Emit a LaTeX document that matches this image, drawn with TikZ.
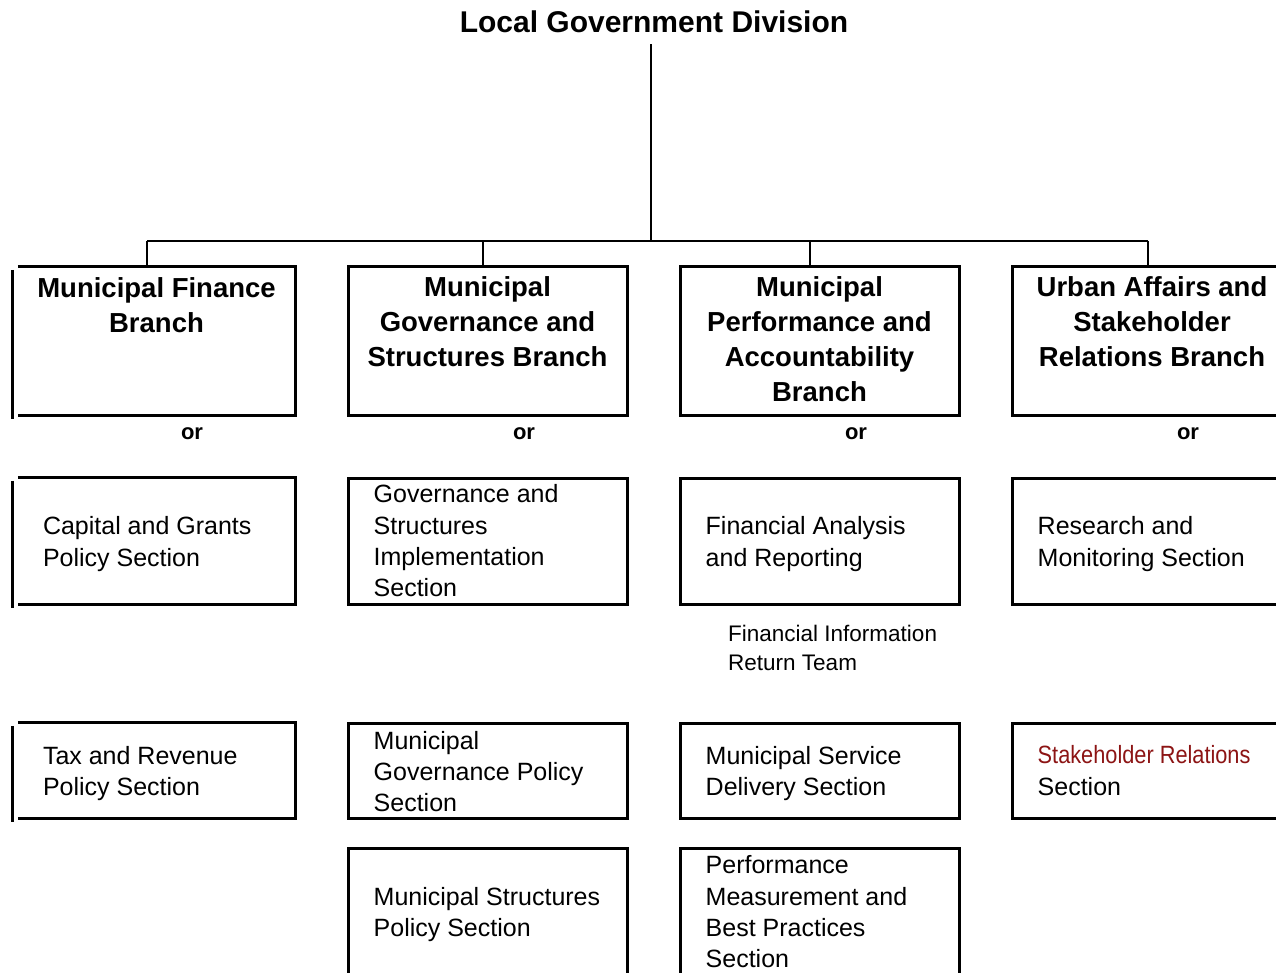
\documentclass[tikz,border=0pt]{standalone}
\usepackage{fontspec}
\setmainfont{Liberation Sans}
\newfontfamily\narrowfont[FakeStretch=0.87]{Liberation Sans}
\definecolor{srred}{RGB}{140,20,20}
\begin{document}
\begin{tikzpicture}[x=1pt,y=-1pt,
  conn/.style={line width=1.8pt},
  edge3/.style={line width=3pt},
  frame/.style={rectangle,draw,line width=3pt,inner sep=0pt},
  openbox/.style={rectangle,inner sep=0pt},
  head/.style={font=\fontsize{27.5}{35}\selectfont\bfseries,align=center,anchor=north,inner sep=0pt},
  body/.style={font=\fontsize{25}{31.3}\selectfont,align=left,anchor=west,inner sep=0pt,yshift=-3pt},
  ortext/.style={font=\fontsize{22}{26}\selectfont\bfseries,inner sep=0pt},
  note/.style={font=\fontsize{22.5}{28.5}\selectfont,align=left,anchor=west,inner sep=0pt},
]
\useasboundingbox (0,0) rectangle (1276,973);
\clip (0,0) rectangle (1276,973);

% title
\node[font=\fontsize{30}{36}\selectfont\bfseries,inner sep=0pt] (title) at (654,22) {Local Government Division};

% row 1 (branches)
\node[openbox,minimum width=277pt,minimum height=148pt] (b1) at (156.5,341) {};
\node[frame,minimum width=279pt,minimum height=148pt] (b2) at (487.5,341) {};
\node[frame,minimum width=279pt,minimum height=148pt] (b3) at (819.5,341) {};
\node[frame,minimum width=280pt,minimum height=148pt] (b4) at (1152,341) {};

\node[head] (h1) at ([yshift=-11pt]b1.north) {Municipal Finance\\Branch};
\node[head] (h2) at ([yshift=-11pt]b2.north) {Municipal\\Governance and\\Structures Branch};
\node[head] (h3) at ([yshift=-11pt]b3.north) {Municipal\\Performance and\\Accountability\\Branch};
\node[head] (h4) at ([yshift=-11pt]b4.north) {Urban Affairs and\\Stakeholder\\Relations Branch};

\node[ortext] (o1) at (192,434) {or};
\node[ortext] (o2) at (524,434) {or};
\node[ortext] (o3) at (856,434) {or};
\node[ortext] (o4) at (1188,434) {or};

% row 2
\node[openbox,minimum width=277pt,minimum height=126pt] (b21) at (156.5,541) {};
\node[frame,minimum width=279pt,minimum height=126pt] (b22) at (487.5,541) {};
\node[frame,minimum width=279pt,minimum height=126pt] (b23) at (819.5,541) {};
\node[frame,minimum width=280pt,minimum height=126pt] (b24) at (1152,541) {};

\node[body] (t21) at ([xshift=25pt]b21.west) {Capital and Grants\\Policy Section};
\node[body,yshift=3pt] (t22) at ([xshift=27pt]b22.west) {Governance and\\Structures\\Implementation\\Section};
\node[body] (t23) at ([xshift=27pt]b23.west) {Financial Analysis\\and Reporting};
\node[body] (t24) at ([xshift=27pt]b24.west) {Research and\\Monitoring Section};

\node[note] (fir) at (728,648) {Financial Information\\Return Team};

% row 3
\node[openbox,minimum width=277pt,minimum height=95pt] (b31) at (156.5,770.5) {};
\node[frame,minimum width=279pt,minimum height=95pt] (b32) at (487.5,770.5) {};
\node[frame,minimum width=279pt,minimum height=95pt] (b33) at (819.5,770.5) {};
\node[frame,minimum width=280pt,minimum height=95pt] (b34) at (1152,770.5) {};

\node[body] (t31) at ([xshift=25pt]b31.west) {Tax and Revenue\\Policy Section};
\node[body,yshift=2pt] (t32) at ([xshift=27pt]b32.west) {Municipal\\Governance Policy\\Section};
\node[body] (t33) at ([xshift=27pt]b33.west) {Municipal Service\\Delivery Section};
\node[body,yshift=3pt] (t34) at ([xshift=27pt]b34.west) {{\narrowfont\color{srred}Stakeholder Relations}\\Section};

% row 4
\node[frame,minimum width=279pt,minimum height=129pt] (b42) at (487.5,912.5) {};
\node[frame,minimum width=279pt,minimum height=129pt] (b43) at (819.5,912.5) {};

\node[body,yshift=1pt] (t42) at ([xshift=27pt]b42.west) {Municipal Structures\\Policy Section};
\node[body,yshift=3.5pt] (t43) at ([xshift=27pt]b43.west) {Performance\\Measurement and\\Best Practices\\Section};

% first column boxes: three edges plus offset left bar
\foreach \b in {b1,b21,b31}{
  \draw[edge3] (\b.north west) -- (\b.north east) -- (\b.south east) -- (\b.south west);
  \draw[edge3] ([xshift=-5pt,yshift=-3pt]\b.north west) -- ([xshift=-5pt,yshift=-4pt]\b.south west);
}

% connectors
\coordinate (hub) at (651,241);
\coordinate (j1) at (147,241);
\coordinate (j2) at (483,241);
\coordinate (j3) at (810,241);
\coordinate (j4) at (1148,241);
\draw[conn] ([yshift=-11pt]title.south -| hub) -- (hub);
\draw[conn] (j1) -- (j4);
\draw[conn] (j1) -- (j1 |- b1.north);
\draw[conn] (j2) -- (j2 |- b2.north);
\draw[conn] (j3) -- (j3 |- b3.north);
\draw[conn] (j4) -- (j4 |- b4.north);
\end{tikzpicture}
\end{document}
